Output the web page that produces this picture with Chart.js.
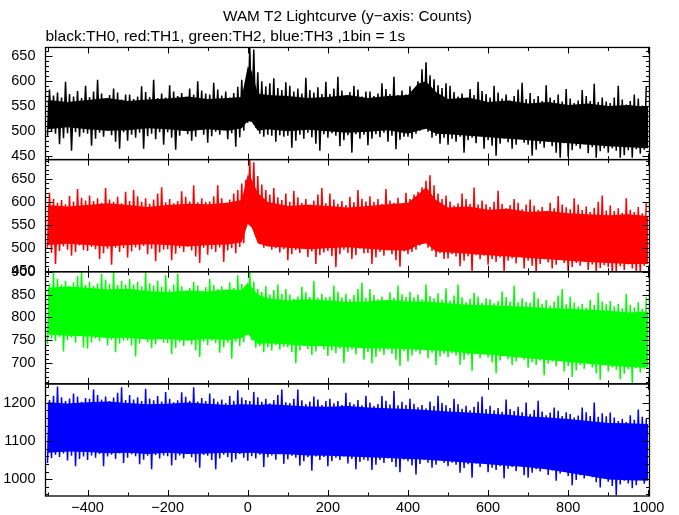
<!DOCTYPE html>
<html>
<head>
<meta charset="utf-8">
<script src="https://cdn.jsdelivr.net/npm/chart.js@4.4.1/dist/chart.umd.min.js"></script>
<style>
  html, body { margin: 0; padding: 0; background: #fff; }
  #wrap { width: 679px; height: 515px; }
</style>
</head>
<body>
<div id="wrap"><canvas id="lc"></canvas></div>
<script>
// WAM T2 lightcurve, 4 energy channels:
// per-10s envelopes (low / high extent of the 1s bins) plus the
// solid core of each band

const binStart = -500;
const binWidth = 10;

const xTicks = [-400, -200, 0, 200, 400, 600, 800, 1000];

// TH0 (black)
const th0Hi = [
  583, 571, 577, 567, 599, 574, 569, 580, 566, 591,
  568, 579, 603, 575, 565, 572, 585, 577, 563, 573,
  573, 564, 569, 590, 578, 568, 603, 566, 575, 567,
  592, 579, 570, 576, 567, 585, 573, 600, 581, 575,
  573, 597, 583, 571, 579, 567, 576, 589, 603, 600,
  668, 664, 618, 600, 590, 596, 606, 586, 582, 598,
  591, 579, 585, 575, 607, 582, 577, 588, 574, 599,
  574, 585, 609, 581, 571, 578, 591, 583, 569, 579,
  579, 570, 575, 596, 584, 574, 609, 572, 581, 573,
  590, 584, 600, 624, 638, 612, 604, 592, 586, 596,
  591, 578, 569, 575, 566, 584, 572, 599, 580, 574,
  567, 591, 577, 565, 573, 561, 570, 583, 597, 564,
  576, 564, 570, 560, 592, 567, 562, 573, 559, 584,
  565, 556, 561, 582, 570, 560, 595, 558, 567, 559,
  556, 567, 591, 563, 553, 560, 573, 565, 551, 590
];
const th0Lo = [
  490, 499, 494, 473, 485, 495, 460, 497, 488, 496,
  494, 470, 484, 496, 488, 500, 491, 478, 464, 497,
  480, 492, 486, 496, 464, 489, 494, 483, 497, 472,
  497, 486, 462, 490, 500, 493, 480, 488, 502, 492,
  476, 489, 498, 492, 501, 483, 495, 468, 487, 500,
  516, 522, 506, 494, 488, 492, 490, 478, 491, 488,
  490, 466, 480, 492, 484, 496, 487, 474, 460, 493,
  486, 495, 490, 469, 481, 491, 456, 493, 484, 492,
  471, 484, 493, 487, 496, 478, 490, 463, 482, 488,
  488, 484, 494, 500, 505, 498, 486, 490, 474, 486,
  472, 484, 478, 488, 456, 481, 486, 475, 489, 464,
  481, 470, 450, 474, 484, 477, 464, 472, 486, 476,
  472, 450, 462, 474, 466, 478, 469, 456, 446, 475,
  448, 461, 470, 464, 473, 455, 467, 446, 459, 465,
  456, 465, 460, 446, 451, 461, 446, 463, 454, 462
];

// TH1 (red)
const th1Hi = [
  620, 607, 598, 604, 595, 613, 601, 628, 609, 603,
  614, 602, 608, 598, 630, 605, 600, 611, 597, 622,
  602, 626, 612, 600, 608, 596, 605, 618, 632, 599,
  606, 597, 602, 623, 611, 601, 636, 599, 608, 600,
  601, 612, 636, 608, 598, 605, 618, 626, 640, 648,
  692, 686, 656, 638, 626, 616, 630, 610, 604, 618,
  600, 624, 610, 598, 606, 594, 603, 616, 630, 597,
  618, 605, 596, 602, 593, 611, 599, 626, 607, 601,
  612, 600, 606, 596, 628, 603, 598, 609, 595, 620,
  606, 616, 622, 632, 646, 658, 636, 618, 606, 614,
  601, 592, 597, 618, 606, 596, 631, 594, 603, 595,
  589, 600, 624, 596, 586, 593, 606, 598, 584, 594,
  605, 592, 583, 589, 580, 598, 586, 613, 594, 588,
  584, 608, 594, 582, 590, 578, 587, 600, 614, 581,
  592, 580, 586, 576, 608, 583, 578, 589, 575, 600
];
const th1Lo = [
  500, 489, 465, 493, 503, 496, 483, 491, 505, 495,
  493, 502, 497, 476, 488, 498, 463, 500, 491, 499,
  479, 492, 501, 495, 504, 486, 498, 471, 490, 496,
  497, 473, 487, 499, 491, 503, 494, 481, 467, 500,
  485, 497, 491, 501, 469, 494, 499, 488, 502, 510,
  552, 546, 524, 508, 500, 505, 496, 499, 490, 497,
  473, 486, 495, 489, 498, 480, 492, 465, 484, 490,
  493, 482, 458, 486, 496, 489, 476, 484, 498, 488,
  489, 465, 479, 491, 483, 495, 486, 473, 459, 492,
  486, 491, 496, 505, 510, 500, 493, 480, 488, 476,
  477, 486, 481, 460, 472, 482, 447, 484, 475, 483,
  463, 475, 469, 479, 447, 472, 477, 466, 480, 455,
  472, 461, 445, 465, 475, 468, 455, 463, 477, 467,
  445, 458, 467, 461, 470, 452, 464, 444, 456, 462,
  458, 444, 448, 460, 452, 464, 455, 444, 444, 461
];

// TH2 (green)
const th2Hi = [
  874, 898, 884, 872, 880, 868, 877, 890, 902, 871,
  878, 869, 874, 895, 883, 873, 902, 871, 880, 872,
  884, 872, 878, 868, 900, 875, 870, 881, 867, 892,
  861, 872, 896, 868, 858, 865, 878, 870, 856, 866,
  884, 871, 862, 868, 859, 877, 865, 892, 873, 867,
  902, 878, 862, 856, 868, 850, 860, 872, 852, 862,
  850, 841, 846, 867, 855, 845, 880, 843, 852, 844,
  846, 870, 856, 844, 852, 840, 849, 862, 876, 843,
  862, 849, 840, 846, 837, 855, 843, 870, 851, 845,
  856, 844, 850, 840, 872, 847, 842, 853, 839, 864,
  837, 848, 872, 844, 834, 841, 854, 846, 832, 842,
  840, 831, 836, 857, 845, 835, 870, 833, 842, 834,
  832, 856, 842, 830, 838, 826, 835, 848, 862, 829,
  846, 833, 824, 830, 821, 839, 827, 854, 835, 829,
  836, 824, 830, 820, 852, 827, 822, 833, 819, 844
];
const th2Lo = [
  742, 754, 748, 758, 726, 751, 756, 745, 759, 734,
  732, 745, 754, 748, 757, 739, 751, 724, 743, 749,
  750, 739, 715, 743, 753, 746, 733, 741, 755, 745,
  744, 720, 734, 746, 738, 750, 741, 728, 714, 747,
  740, 749, 744, 723, 735, 745, 710, 747, 738, 746,
  762, 750, 734, 738, 724, 735, 728, 740, 730, 736,
  735, 724, 700, 728, 738, 731, 718, 726, 740, 730,
  716, 728, 722, 732, 700, 725, 730, 719, 733, 708,
  724, 700, 714, 726, 718, 730, 721, 708, 694, 727,
  704, 717, 726, 720, 729, 711, 723, 696, 715, 721,
  713, 722, 717, 696, 708, 718, 683, 720, 711, 719,
  713, 702, 678, 706, 716, 709, 696, 704, 718, 708,
  690, 702, 696, 706, 674, 699, 704, 693, 707, 682,
  694, 670, 684, 696, 688, 700, 691, 678, 664, 697,
  682, 691, 686, 665, 677, 687, 656, 689, 680, 688
];

// TH3 (blue)
const th3Hi = [
  1207, 1218, 1242, 1214, 1204, 1211, 1224, 1216, 1202, 1212,
  1210, 1234, 1220, 1208, 1216, 1204, 1213, 1226, 1240, 1207,
  1220, 1208, 1214, 1204, 1236, 1211, 1206, 1217, 1203, 1228,
  1210, 1201, 1206, 1227, 1215, 1205, 1240, 1203, 1212, 1204,
  1224, 1211, 1202, 1208, 1199, 1217, 1205, 1232, 1213, 1207,
  1204, 1228, 1214, 1202, 1210, 1198, 1207, 1220, 1234, 1201,
  1199, 1210, 1234, 1206, 1196, 1203, 1216, 1208, 1194, 1204,
  1210, 1198, 1204, 1194, 1226, 1201, 1196, 1207, 1193, 1218,
  1200, 1191, 1196, 1217, 1205, 1195, 1230, 1193, 1202, 1194,
  1210, 1197, 1188, 1194, 1185, 1203, 1191, 1218, 1199, 1193,
  1186, 1210, 1196, 1184, 1192, 1180, 1189, 1202, 1216, 1183,
  1192, 1180, 1186, 1176, 1208, 1183, 1178, 1189, 1175, 1200,
  1170, 1181, 1205, 1177, 1167, 1174, 1187, 1179, 1165, 1175,
  1170, 1161, 1166, 1187, 1175, 1165, 1200, 1163, 1172, 1164,
  1174, 1161, 1152, 1158, 1149, 1167, 1155, 1182, 1163, 1157
];
const th3Lo = [
  1042, 1055, 1064, 1058, 1067, 1049, 1061, 1034, 1053, 1059,
  1050, 1062, 1056, 1066, 1034, 1059, 1064, 1053, 1067, 1042,
  1056, 1065, 1060, 1039, 1051, 1061, 1026, 1063, 1054, 1062,
  1060, 1036, 1050, 1062, 1054, 1066, 1057, 1044, 1030, 1063,
  1061, 1050, 1026, 1054, 1064, 1057, 1044, 1052, 1066, 1056,
  1048, 1060, 1054, 1064, 1032, 1057, 1062, 1051, 1065, 1040,
  1052, 1061, 1056, 1035, 1047, 1057, 1022, 1059, 1050, 1058,
  1034, 1047, 1056, 1050, 1059, 1041, 1053, 1026, 1045, 1051,
  1048, 1024, 1038, 1050, 1042, 1054, 1045, 1032, 1018, 1051,
  1047, 1036, 1012, 1040, 1050, 1043, 1030, 1038, 1052, 1042,
  1034, 1043, 1038, 1017, 1029, 1039, 1004, 1041, 1032, 1040,
  1018, 1030, 1024, 1034, 1002, 1027, 1032, 1021, 1035, 1010,
  1004, 1017, 1026, 1020, 1029, 1011, 1023, 996, 1015, 1021,
  1008, 984, 998, 1010, 1002, 1014, 1005, 992, 978, 1011,
  993, 982, 958, 986, 996, 989, 976, 984, 998, 988
];

// solid core of each band (where the 1s bins overlap), read at these times
const coreT = [
  -500, -450, -400, -350, -300, -250, -200, -150, -100, -50, -15, 0, 10, 25, 50,
  100, 150, 200, 250, 300, 350, 400, 425, 445, 470, 500, 550, 600, 650, 700,
  750, 800, 850, 900, 950, 1000
];
const th0CoreHi = [
  562, 558, 562, 566, 560, 563, 565, 569, 564, 566, 568, 630, 620, 575, 572,
  570, 566, 568, 572, 566, 570, 572, 595, 600, 578, 564, 567, 558, 561, 555,
  558, 552, 555, 550, 552, 548
];
const th0CoreLo = [
  503, 507, 503, 500, 501, 505, 503, 499, 503, 500, 505, 520, 518, 500, 503,
  499, 502, 499, 496, 498, 501, 494, 500, 504, 494, 493, 490, 487, 484, 481,
  478, 475, 472, 469, 467, 465
];
const th1CoreHi = [
  593, 590, 593, 597, 593, 589, 593, 596, 595, 598, 604, 660, 648, 620, 600,
  591, 594, 591, 588, 591, 595, 598, 616, 632, 604, 588, 590, 583, 585, 578,
  580, 575, 573, 571, 573, 569
];
const th1CoreLo = [
  506, 509, 506, 503, 506, 508, 506, 503, 506, 507, 512, 552, 544, 510, 503,
  500, 497, 499, 501, 498, 495, 494, 506, 510, 492, 490, 487, 484, 481, 478,
  475, 472, 469, 467, 465, 465
];
const th2CoreHi = [
  865, 868, 865, 861, 863, 858, 855, 859, 857, 861, 860, 876, 866, 850, 842,
  837, 840, 837, 834, 835, 838, 835, 835, 835, 833, 831, 828, 827, 825, 823,
  820, 819, 817, 815, 811, 813
];
const th2CoreLo = [
  763, 760, 759, 755, 756, 752, 753, 750, 753, 751, 755, 764, 754, 742, 744,
  741, 738, 737, 735, 733, 732, 731, 730, 729, 728, 726, 722, 719, 715, 711,
  707, 703, 699, 695, 692, 690
];
const th3CoreHi = [
  1201, 1198, 1201, 1203, 1199, 1196, 1197, 1200, 1197, 1194, 1196, 1195, 1195, 1194, 1196,
  1193, 1190, 1189, 1191, 1187, 1185, 1183, 1182, 1181, 1179, 1177, 1174, 1171, 1168, 1164,
  1161, 1157, 1152, 1147, 1146, 1144
];
const th3CoreLo = [
  1069, 1072, 1071, 1068, 1069, 1066, 1069, 1066, 1067, 1069, 1068, 1069, 1069, 1068, 1066,
  1065, 1062, 1061, 1059, 1057, 1055, 1053, 1052, 1051, 1049, 1047, 1043, 1039, 1035, 1031,
  1025, 1017, 1008, 999, 997, 996
];

// y ranges and labelled ticks of the four panels (top to bottom)
const th0Range = [442, 668], th0Ticks = [450, 500, 550, 600, 650];
const th1Range = [448, 692], th1Ticks = [450, 500, 550, 600, 650];
const th2Range = [655, 900], th2Ticks = [700, 750, 800, 850, 900];
const th3Range = [956, 1249], th3Ticks = [1000, 1100, 1200];

const FONT = 'Liberation Sans, Arial, Helvetica, sans-serif';

// build a line that swings low/high inside each bin
function zigzag(lo, hi) {
    const pts = [];
    lo.forEach((v, i) => {
        const t = binStart + i * binWidth;
        pts.push({ x: t, y: v });
        pts.push({ x: t + binWidth / 2, y: hi[i] });
    });
    return pts;
}

function pairs(xs, ys) {
    return xs.map((x, i) => ({ x: x, y: ys[i] }));
}

function fmt(v) {
    return v < 0 ? '\u2212' + Math.abs(v) : String(v);
}

function yAxis(range, ticks) {
    return {
        type: 'linear',
        position: 'left',
        stack: 'lc',
        stackWeight: 1,
        min: range[0],
        max: range[1],
        grid: { display: false, drawTicks: false },
        border: { display: false },
        afterBuildTicks: (scale) => { scale.ticks = ticks.map(v => ({ value: v })); },
        afterFit: (scale) => { scale.width = 45.5; },
        ticks: {
            color: '#000',
            padding: 10,
            autoSkip: false,
            font: { family: FONT, size: 14.5 },
            callback: (v) => fmt(v)
        }
    };
}

// panels: scale id, minor step, major step
const panels = [
    { id: 'y0', minor: 10, major: 50 },
    { id: 'y1', minor: 10, major: 50 },
    { id: 'y2', minor: 10, major: 50 },
    { id: 'y3', minor: 20, major: 100 }
];

// IDL-style box: inward ticks on all four sides of every panel
const boxTicks = {
    id: 'boxTicks',
    afterDatasetsDraw(chart) {
        const ctx = chart.ctx;
        const area = chart.chartArea;
        const xs = chart.scales.x;
        ctx.save();
        ctx.strokeStyle = '#000';
        ctx.lineWidth = 1;
        panels.forEach(p => {
            const ys = chart.scales[p.id];
            const top = ys.top, bottom = ys.bottom;
            ctx.beginPath();
            // y ticks, left and right
            const first = Math.ceil(ys.min / p.minor) * p.minor;
            for (let v = first; v <= ys.max; v += p.minor) {
                const y = Math.round(ys.getPixelForValue(v)) + 0.5;
                const len = (v % p.major === 0) ? 7 : 3.5;
                ctx.moveTo(area.left, y); ctx.lineTo(area.left + len, y);
                ctx.moveTo(area.right, y); ctx.lineTo(area.right - len, y);
            }
            // x ticks, top and bottom of panel
            for (let v = -500; v <= 1000; v += 100) {
                const x = Math.round(xs.getPixelForValue(v)) + 0.5;
                const len = (v % 200 === 0) ? 6 : 3.5;
                ctx.moveTo(x, top); ctx.lineTo(x, top + len);
                ctx.moveTo(x, bottom); ctx.lineTo(x, bottom - len);
            }
            ctx.stroke();
            ctx.lineWidth = 1.3;
            ctx.strokeRect(area.left, top, area.right - area.left, bottom - top);
            ctx.lineWidth = 1;
        });
        ctx.restore();
    }
};

const series = [
    { label: 'TH0', lo: th0Lo, hi: th0Hi, coreLo: th0CoreLo, coreHi: th0CoreHi, color: '#000000', axis: 'y0' },
    { label: 'TH1', lo: th1Lo, hi: th1Hi, coreLo: th1CoreLo, coreHi: th1CoreHi, color: '#ff0000', axis: 'y1' },
    { label: 'TH2', lo: th2Lo, hi: th2Hi, coreLo: th2CoreLo, coreHi: th2CoreHi, color: '#00ff00', axis: 'y2' },
    { label: 'TH3', lo: th3Lo, hi: th3Hi, coreLo: th3CoreLo, coreHi: th3CoreHi, color: '#0000ff', axis: 'y3' }
];

const datasets = [];
series.forEach(s => {
    // the spiky 1s curve
    datasets.push({
        label: s.label,
        data: zigzag(s.lo, s.hi),
        yAxisID: s.axis,
        borderColor: s.color,
        borderWidth: 1.5,
        borderJoinStyle: 'bevel',
        pointRadius: 0,
        tension: 0,
        fill: false
    });
    // its solid core, filled between two edges
    datasets.push({
        label: s.label + ' core',
        data: pairs(coreT, s.coreHi),
        yAxisID: s.axis,
        borderWidth: 0,
        borderColor: s.color,
        backgroundColor: s.color,
        pointRadius: 0,
        tension: 0,
        fill: '+1'
    });
    datasets.push({
        label: s.label + ' core low',
        data: pairs(coreT, s.coreLo),
        yAxisID: s.axis,
        borderWidth: 0,
        borderColor: s.color,
        pointRadius: 0,
        tension: 0,
        fill: false
    });
});

new Chart(document.getElementById('lc'), {
    type: 'line',
    data: { datasets: datasets },
    options: {
        responsive: true,
        maintainAspectRatio: false,
        animation: false,
        parsing: false,
        layout: { padding: { left: 0, right: 29.5, top: 0, bottom: 0 } },
        plugins: {
            legend: { display: false },
            tooltip: { enabled: false },
            title: {
                display: true,
                fullSize: false,
                text: 'WAM T2 Lightcurve (y\u2212axis: Counts)',
                color: '#000',
                font: { family: FONT, size: 15.3, weight: 'normal' },
                padding: { top: 8, bottom: 1.5 }
            },
            subtitle: {
                display: true,
                fullSize: false,
                align: 'start',
                text: 'black:TH0, red:TH1, green:TH2, blue:TH3 ,1bin = 1s',
                color: '#000',
                font: { family: FONT, size: 15.5, weight: 'normal' },
                padding: { top: 0, bottom: 1 }
            }
        },
        scales: {
            x: {
                type: 'linear',
                min: -505,
                max: 1003,
                grid: { display: false, drawTicks: false },
                border: { display: false },
                afterBuildTicks: (scale) => { scale.ticks = xTicks.map(v => ({ value: v })); },
                afterFit: (scale) => { scale.height = 19; },
                ticks: {
                    color: '#000',
                    padding: 3,
                    maxRotation: 0,
                    autoSkip: false,
                    font: { family: FONT, size: 14.5 },
                    callback: (v) => fmt(v)
                }
            },
            // last defined is stacked on top
            y3: yAxis(th3Range, th3Ticks),
            y2: yAxis(th2Range, th2Ticks),
            y1: yAxis(th1Range, th1Ticks),
            y0: yAxis(th0Range, th0Ticks)
        }
    },
    plugins: [boxTicks]
});
</script>
</body>
</html>
